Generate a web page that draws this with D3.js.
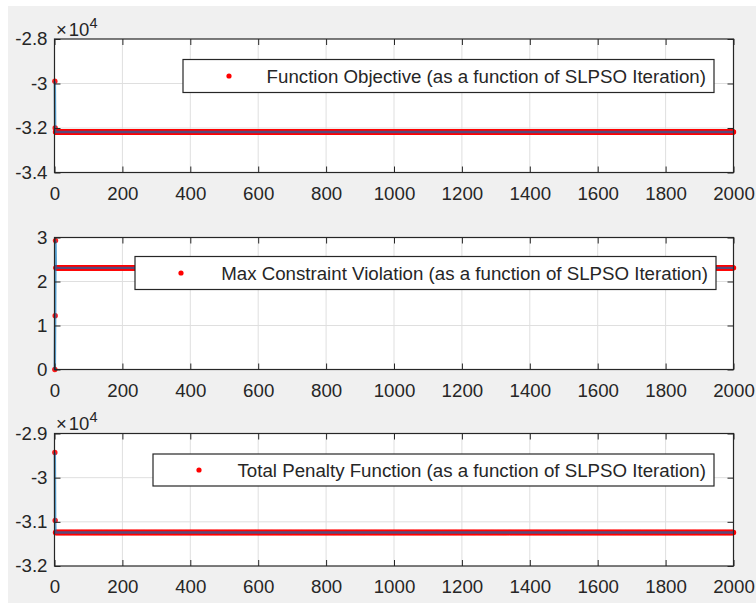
<!DOCTYPE html>
<html>
<head>
<meta charset="utf-8">
<script src="https://cdn.jsdelivr.net/npm/d3@7"></script>
<style>
  body { margin: 0; background: #fff; }
  svg { display: block; font-family: "Liberation Sans", Arial, sans-serif; }
</style>
</head>
<body>
<svg id="canvas" width="756" height="603"></svg>
<script>
// values
const iterCount = 2000;
const xTicks = [0, 200, 400, 600, 800, 1000, 1200, 1400, 1600, 1800, 2000];

const objectiveStart = [-29900, -32000, -32180];
const objectivePlateau = -32180;
const objectiveTicks = [-34000, -32000, -30000, -28000];

const violationStart = [0, 1.22, 2.93];
const violationPlateau = 2.31;
const violationTicks = [0, 1, 2, 3];

const penaltyStart = [-29430, -30970];
const penaltyPlateau = -31240;
const penaltyTicks = [-32000, -31000, -30000, -29000];

const legendLabels = [
	"Function Objective (as a function of SLPSO Iteration)",
	"Max Constraint Violation (as a function of SLPSO Iteration)",
	"Total Penalty Function (as a function of SLPSO Iteration)"
];

// the run stays on its last value for the rest of the iterations
let buildSeries = (start, plateau) => {
	let out = [];
	for (let i = 1; i <= iterCount; i++) {
		out.push({ iter: i, value: i <= start.length ? start[i - 1] : plateau });
	}
	return out;
};

let svg = d3.select("#canvas");
svg.append("rect").attr("x", 8).attr("y", 6).attr("width", 748).attr("height", 597).attr("fill", "#f0f0f0");

const left = 54.5, right = 733.5;
let x = d3.scaleLinear().domain([0, iterCount]).range([left, right]);

const panels = [
	{ series: buildSeries(objectiveStart, objectivePlateau), ticks: objectiveTicks, top: 39, bottom: 172.5,
	  exp: true, legend: { x: 183, y: 59.5, w: 531, h: 33 } },
	{ series: buildSeries(violationStart, violationPlateau), ticks: violationTicks, top: 237.5, bottom: 369.5,
	  exp: false, legend: { x: 135, y: 256.5, w: 581, h: 33 } },
	{ series: buildSeries(penaltyStart, penaltyPlateau), ticks: penaltyTicks, top: 433.5, bottom: 566,
	  exp: true, legend: { x: 153, y: 454, w: 561, h: 32 } }
];

let fmt = (exp) => (d) => exp ? String(d / 1e4) : String(d);

panels.forEach((p, idx) => {
	let y = d3.scaleLinear().domain(d3.extent(p.ticks)).range([p.bottom, p.top]);
	let g = svg.append("g");

	g.append("rect").attr("x", left).attr("y", p.top)
		.attr("width", right - left).attr("height", p.bottom - p.top).attr("fill", "#fff");

	// grid
	g.selectAll(".gx").data(xTicks.slice(1, -1)).enter().append("line")
		.attr("x1", d => x(d)).attr("x2", d => x(d)).attr("y1", p.top).attr("y2", p.bottom)
		.attr("stroke", "#dfdfdf").attr("stroke-width", 1);
	g.selectAll(".gy").data(p.ticks.slice(1, -1)).enter().append("line")
		.attr("y1", d => y(d)).attr("y2", d => y(d)).attr("x1", left).attr("x2", right)
		.attr("stroke", "#dfdfdf").attr("stroke-width", 1);

	// red dots then blue line
	g.selectAll(".dot").data(p.series).enter().append("circle")
		.attr("cx", d => x(d.iter)).attr("cy", d => y(d.value)).attr("r", 2.7)
		.attr("fill", "#ff0000").attr("fill-opacity", 0.9);
	g.append("path").datum(p.series)
		.attr("d", d3.line().x(d => x(d.iter)).y(d => y(d.value)))
		.attr("fill", "none").attr("stroke", "#0072bd").attr("stroke-width", 2.4).attr("stroke-opacity", 0.65);

	// axes (box with inward ticks)
	let ax = (gen, tx, ty) => g.append("g").attr("transform", `translate(${tx},${ty})`).call(gen)
		.call(s => s.select(".domain").remove());
	let xb = ax(d3.axisBottom(x).tickValues(xTicks).tickSize(-6).tickPadding(14).tickFormat(d3.format("d")), 0, p.bottom);
	let xt = ax(d3.axisTop(x).tickValues(xTicks).tickSize(-6).tickFormat(""), 0, p.top);
	let yl = ax(d3.axisLeft(y).tickValues(p.ticks).tickSize(-6).tickPadding(7).tickFormat(fmt(p.exp)), left, 0);
	let yr = ax(d3.axisRight(y).tickValues(p.ticks).tickSize(-6).tickFormat(""), right, 0);
	[xb, xt, yl, yr].forEach(s => {
		s.selectAll("line").attr("stroke", "#262626");
		s.selectAll("text").attr("fill", "#262626").style("font-size", "18.7px")
			.style("font-family", "'Liberation Sans', Arial, sans-serif");
	});

	g.append("rect").attr("x", left).attr("y", p.top)
		.attr("width", right - left).attr("height", p.bottom - p.top)
		.attr("fill", "none").attr("stroke", "#262626").attr("stroke-width", 1.2);

	if (p.exp) {
		let t = g.append("text").attr("x", 56).attr("y", p.top - 3.5).attr("fill", "#262626")
			.style("font-size", "18.5px");
		t.append("tspan").text("\u00d7");
		t.append("tspan").attr("dx", 2).text("10");
		t.append("tspan").attr("dy", -8).style("font-size", "14.5px").text("4");
	}

	// legend
	let L = p.legend;
	let lg = g.append("g");
	lg.append("rect").attr("x", L.x).attr("y", L.y).attr("width", L.w).attr("height", L.h)
		.attr("fill", "#fff").attr("stroke", "#262626").attr("stroke-width", 1.2);
	lg.append("circle").attr("cx", L.x + 46).attr("cy", L.y + L.h / 2).attr("r", 2.6).attr("fill", "#ff0000");
	lg.append("text").attr("x", L.x + L.w - 8).attr("y", L.y + L.h / 2).attr("dy", "0.36em")
		.attr("text-anchor", "end").attr("fill", "#262626").style("font-size", "18.7px")
		.text(legendLabels[idx]);
});
</script>
</body>
</html>
